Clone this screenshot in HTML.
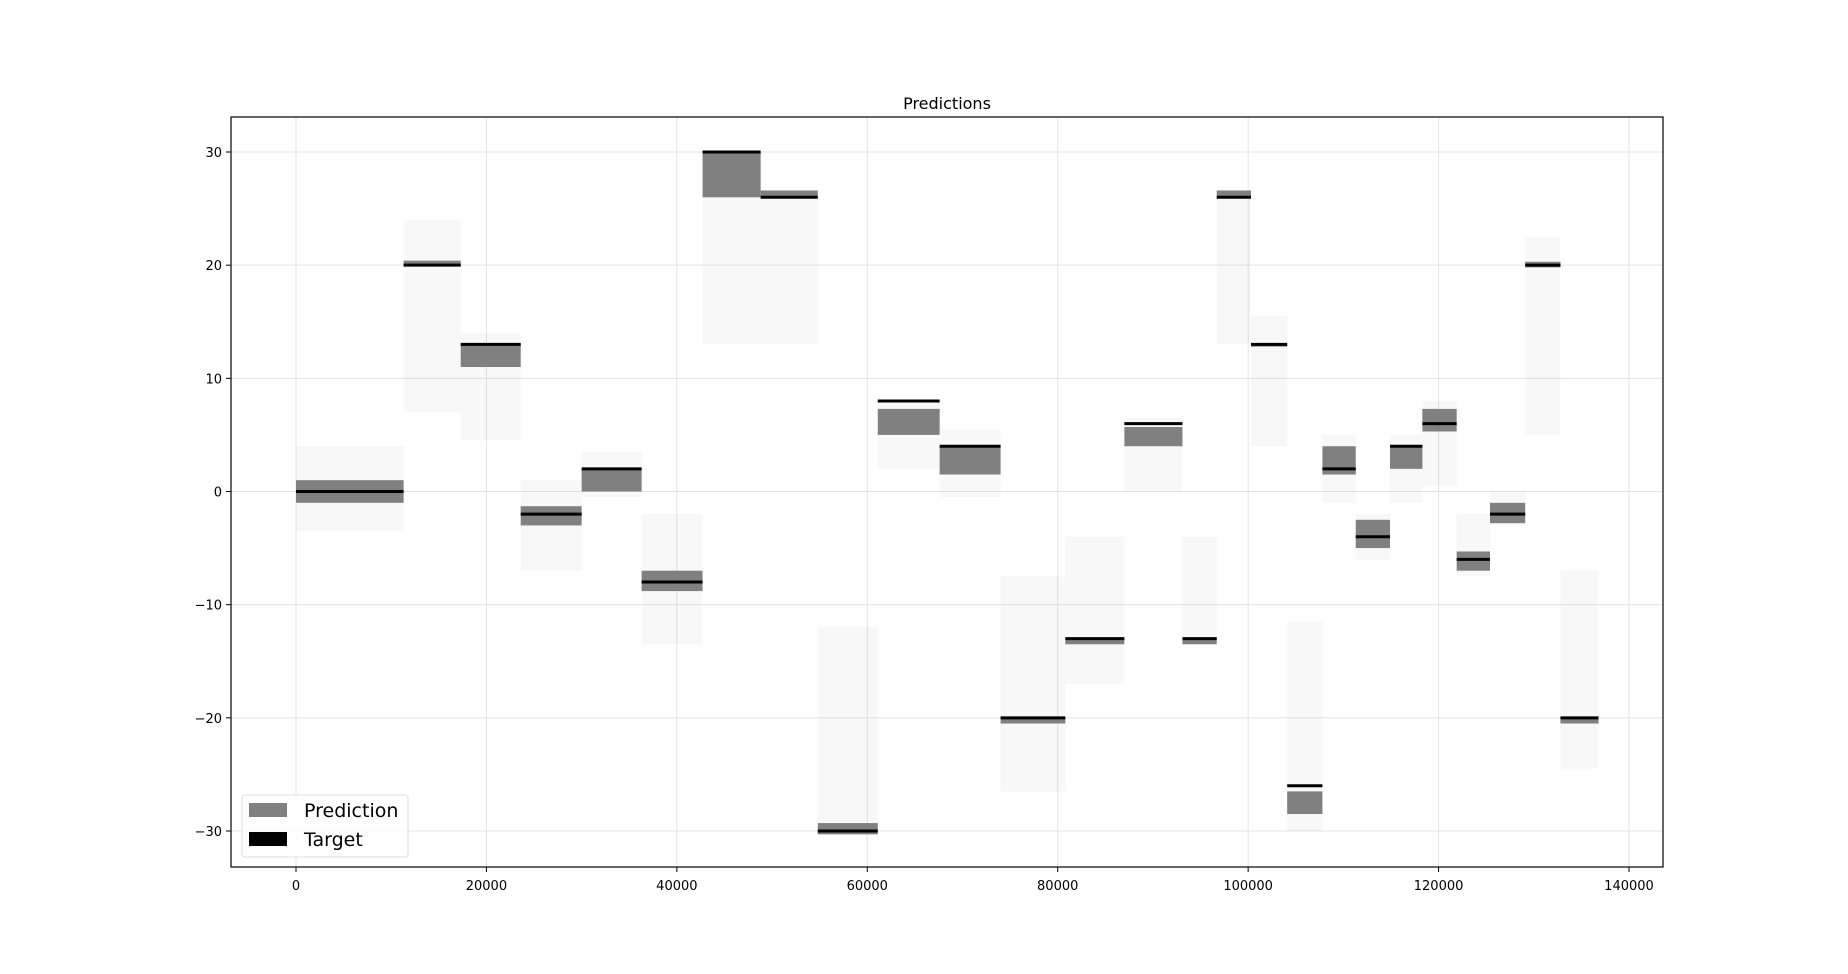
<!DOCTYPE html>
<html><head><meta charset="utf-8"><style>
body{margin:0;background:#fff}
svg{display:block;font-family:"DejaVu Sans","Liberation Sans",sans-serif}
</style></head><body>
<svg id="chart" width="1848" height="974" xmlns="http://www.w3.org/2000/svg">
<rect x="0" y="0" width="1848" height="974" fill="#fff"/>
<text x="947" y="109" font-size="16" text-anchor="middle">Predictions</text>
<g id="grid"></g>
<g id="marks"></g>
<rect x="231" y="117" width="1432" height="750" fill="none" stroke="#000" stroke-width="1.2"/>
<g id="axes"></g>
<g>
<rect x="242" y="795" width="166" height="62" rx="3" fill="#fff" fill-opacity="0.8" stroke="#ddd"/>
<rect x="249" y="803" width="38" height="14" fill="#808080"/>
<text x="304" y="817" font-size="19">Prediction</text>
<rect x="249" y="832" width="38" height="14" fill="#000"/>
<text x="304" y="846" font-size="19">Target</text>
</g>
</svg>
<script>
const segStart=[0,11300,17300,23600,30000,36300,42700,48800,54800,61100,67600,74000,80800,87000,93100,96700,100300,104100,107800,111300,114900,118300,121900,125400,129100,132800];
const segEnd=[11300,17300,23600,30000,36300,42700,48800,54800,61100,67600,74000,80800,87000,93100,96700,100300,104100,107800,111300,114900,118300,121900,125400,129100,132800,136800];
const targets=[0,20,13,-2,2,-8,30,26,-30,8,4,-20,-13,6,-13,26,13,-26,2,-4,4,6,-6,-2,20,-20];
const predLo=[-1,19.9,11,-3,0,-8.8,26,26,-30.3,5,1.5,-20.5,-13.5,4,-13.5,26,12.8,-28.5,1.5,-5,2,5.3,-7,-2.8,19.8,-20.5];
const predHi=[1,20.4,13,-1.3,2,-7,30,26.6,-29.3,7.3,4,-20,-13,5.7,-13,26.6,13.1,-26.5,4,-2.5,4,7.3,-5.3,-1,20.3,-20];
const outLo=[-3.5,7,4.5,-7,-0.5,-13.5,13,13,-30,2,-0.5,-26.5,-17,0,-13,13,4,-30,-1,-6,-1,0.5,-7.5,-3,5,-24.5];
const outHi=[4,24,14,1,3.5,-2,30,26,-12,8,5.5,-7.5,-4,6.5,-4,26.5,15.5,-11.5,5,-2,5,8,-2,0,22.5,-7];
const xTicks=[0,20000,40000,60000,80000,100000,120000,140000];
const yTicks=[-30,-20,-10,0,10,20,30];

const NS='http://www.w3.org/2000/svg';
const X=v=>296+(v/140000)*1333;
const Y=v=>152-(v-30)*(679/60);
function mk(parent,tag,attrs){const e=document.createElementNS(NS,tag);for(const k in attrs)e.setAttribute(k,attrs[k]);parent.appendChild(e);return e;}
const grid=document.getElementById('grid'),marks=document.getElementById('marks'),axes=document.getElementById('axes');
xTicks.forEach(t=>{
  const g=mk(grid,'line',{x1:X(t),x2:X(t),y1:117,y2:867,stroke:'#e3e3e3','stroke-width':1});
  
  
  const tk=mk(axes,'line',{x1:X(t),x2:X(t),y1:867,y2:872,stroke:'#000'});
  
  
  const tx=mk(axes,'text',{x:X(t),y:890,'font-size':13,'text-anchor':'middle'});
  tx.textContent=t;
  
  
});
yTicks.forEach(t=>{
  const g=mk(grid,'line',{x1:231,x2:1663,y1:Y(t),y2:Y(t),stroke:'#e3e3e3','stroke-width':1});
  
  
  const tk=mk(axes,'line',{x1:226,x2:231,y1:Y(t),y2:Y(t),stroke:'#000'});
  
  
  const tx=mk(axes,'text',{x:222,y:Y(t)+5,'font-size':13,'text-anchor':'end'});
  tx.textContent=(t<0?'\u2212'+(-t):t);
  
  
});
targets.forEach((tv,i)=>{
  const x0=X(segStart[i]),x1=X(segEnd[i]);
  const o=mk(marks,'rect',{x:x0,width:x1-x0,y:Y(outHi[i]),height:Math.max(1,Y(outLo[i])-Y(outHi[i])),fill:'rgba(128,128,128,0.06)'});
  
  
  const p=mk(marks,'rect',{x:x0,width:x1-x0,y:Y(predHi[i]),height:Math.max(3,Y(predLo[i])-Y(predHi[i])),fill:'#808080'});
  
  
  const l=mk(marks,'line',{x1:x0,x2:x1,y1:Y(tv),y2:Y(tv),stroke:'#000','stroke-width':3});
  
  
});
</script>
</body></html>
